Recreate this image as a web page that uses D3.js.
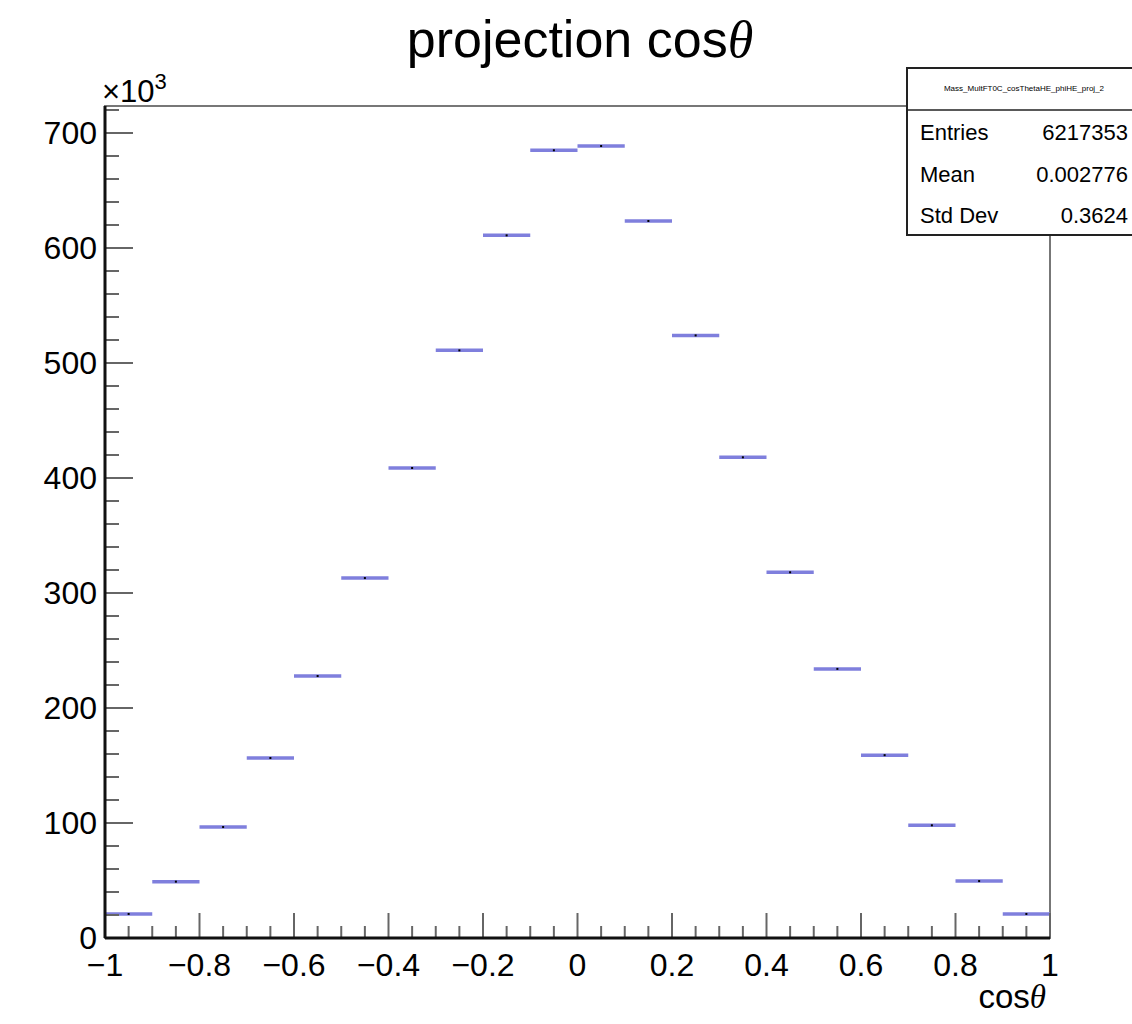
<!DOCTYPE html>
<html>
<head>
<meta charset="utf-8">
<title>projection cos theta</title>
<script src="https://cdn.jsdelivr.net/npm/d3@7"></script>
<style>
  body { margin: 0; background: #fff; }
  svg { display: block; font-family: "Liberation Sans", Arial, Helvetica, sans-serif; }
</style>
</head>
<body>
<svg width="1132" height="1024"></svg>
<script>
// bin edges of cos(theta) and bin contents (counts)
var binLow  = [-1.0,-0.9,-0.8,-0.7,-0.6,-0.5,-0.4,-0.3,-0.2,-0.1,0.0,0.1,0.2,0.3,0.4,0.5,0.6,0.7,0.8,0.9];
var counts  = [20900,49000,96500,156500,227800,313000,408700,511000,611000,685000,
               688700,623500,524000,418000,318000,234000,159000,98000,49500,20900];
var xTicks  = [-1,-0.8,-0.6,-0.4,-0.2,0,0.2,0.4,0.6,0.8,1];
var yTicks  = [0,100,200,300,400,500,600,700];
var statNames  = ["Entries","Mean","Std Dev"];
var statValues = ["6217353","0.002776","0.3624"];
var histName = "Mass_MultFT0C_cosThetaHE_phiHE_proj_2";

var svg = d3.select("svg"),
    margin = {left: 105, right: 82, top: 106, bottom: 86},
    W = +svg.attr("width"), H = +svg.attr("height"),
    x0 = margin.left, x1 = W - margin.right,
    y0 = H - margin.bottom, y1 = margin.top;

var x = d3.scaleLinear().domain([-1, 1]).range([x0, x1]);
var y = d3.scaleLinear().domain([0, 723.5]).range([y0, y1]);  // in units of 10^3

// frame
svg.append("rect")
  .attr("x", x0).attr("y", y1).attr("width", x1 - x0).attr("height", y0 - y1)
  .attr("fill", "none").attr("stroke", "#777").attr("stroke-width", 2);

// histogram markers
var bins = svg.append("g");
binLow.forEach(function(lo, i) {
  var v = counts[i] / 1000;
  bins.append("line")
    .attr("x1", x(lo)).attr("x2", x(lo + 0.1))
    .attr("y1", y(v)).attr("y2", y(v))
    .attr("stroke", "#7f7fdd").attr("stroke-width", 3.5);
  var e = Math.sqrt(counts[i]) / 1000;
  bins.append("rect")
    .attr("x", x(lo + 0.05) - 1).attr("width", 2)
    .attr("y", Math.min(y(v + e), y(v) - 1)).attr("height", Math.max(y(v - e) - y(v + e), 2))
    .attr("fill", "#000");
});

// x axis ticks
var xMinor = d3.range(-1, 1.0001, 0.05);
svg.append("g").selectAll("line").data(xMinor).enter().append("line")
  .attr("x1", function(d) { return x(d); }).attr("x2", function(d) { return x(d); })
  .attr("y1", y0)
  .attr("y2", function(d) { return Math.abs(Math.round(d * 100) % 20) === 0 ? y0 - 25 : y0 - 12; })
  .attr("stroke", "#666").attr("stroke-width", 2);

// y axis ticks
var yMinor = d3.range(0, 721, 20);
svg.append("g").selectAll("line").data(yMinor).enter().append("line")
  .attr("y1", function(d) { return y(d); }).attr("y2", function(d) { return y(d); })
  .attr("x1", x0)
  .attr("x2", function(d) { return d % 100 === 0 ? x0 + 28 : x0 + 14; })
  .attr("stroke", "#666").attr("stroke-width", 2);

// axis lines
svg.append("line").attr("x1", x0).attr("x2", x1).attr("y1", y0).attr("y2", y0)
  .attr("stroke", "#111").attr("stroke-width", 3);
svg.append("line").attr("x1", x0).attr("x2", x0).attr("y1", y0).attr("y2", y1)
  .attr("stroke", "#111").attr("stroke-width", 3);

// tick labels
function fmt(d) {
  var s = d3.format("")(Math.round(d * 10) / 10);
  return s.replace("-", "\u2212");
}
svg.append("g").selectAll("text").data(xTicks).enter().append("text")
  .attr("x", function(d) { return x(d); }).attr("y", y0 + 38)
  .attr("text-anchor", "middle").attr("font-size", 32).attr("fill", "#000")
  .text(fmt);
svg.append("g").selectAll("text").data(yTicks).enter().append("text")
  .attr("x", x0 - 8).attr("y", function(d) { return y(d) + 11; })
  .attr("text-anchor", "end").attr("font-size", 32).attr("fill", "#000")
  .text(function(d) { return d; });

// exponent label
var ex = svg.append("text").attr("x", x0 - 3).attr("y", 102).attr("font-size", 31).attr("fill", "#000");
ex.append("tspan").text("\u00d710");
ex.append("tspan").attr("dy", -13).attr("font-size", 22).text("3");

// axis title
var xt = svg.append("text").attr("x", x1 - 4).attr("y", 1008)
  .attr("text-anchor", "end").attr("font-size", 33).attr("fill", "#000");
xt.append("tspan").text("cos");
xt.append("tspan").attr("font-family", "'Liberation Serif', serif").attr("font-style", "italic").text("\u03b8");

// title
var tt = svg.append("text").attr("x", 580).attr("y", 57)
  .attr("text-anchor", "middle").attr("font-size", 52).attr("fill", "#000");
tt.append("tspan").text("projection cos");
tt.append("tspan").attr("font-family", "'Liberation Serif', serif").attr("font-style", "italic").text("\u03b8");

// stats box
var bx = 907, by = 68, bw = 240, bh = 167;
var box = svg.append("g");
box.append("rect").attr("x", bx).attr("y", by).attr("width", bw).attr("height", bh)
  .attr("fill", "#fff").attr("stroke", "#222").attr("stroke-width", 2);
box.append("line").attr("x1", bx).attr("x2", bx + bw).attr("y1", 110).attr("y2", 110)
  .attr("stroke", "#222").attr("stroke-width", 1.5);
box.append("text").attr("x", 1024).attr("y", 91).attr("text-anchor", "middle")
  .attr("font-size", 8).attr("fill", "#000").text(histName);
var rowY = [140, 182, 223];
statNames.forEach(function(n, i) {
  box.append("text").attr("x", 920).attr("y", rowY[i]).attr("font-size", 22).attr("fill", "#000").text(n);
  box.append("text").attr("x", 1128).attr("y", rowY[i]).attr("text-anchor", "end")
    .attr("font-size", 22).attr("fill", "#000").text(statValues[i]);
});
</script>
</body>
</html>
